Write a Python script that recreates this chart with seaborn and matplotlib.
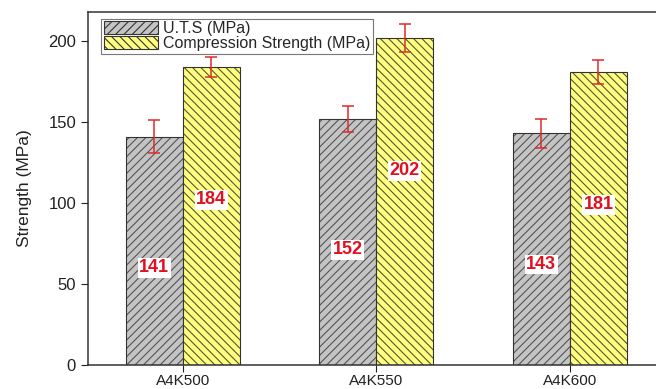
import matplotlib
matplotlib.use("Agg")
import matplotlib.pyplot as plt
import seaborn as sns
import pandas as pd
from matplotlib.patches import Patch

samples = ["A4K500", "A4K550", "A4K600"]
series = ["U.T.S (MPa)", "Compression Strength (MPa)"]
uts = [141, 152, 143]
comp = [184, 202, 181]
uts_err = [10, 8, 9]
comp_err = [6, 8.5, 7.5]
uts_label_y = [60, 71, 62]
comp_label_y = [102, 120, 99]

df = pd.DataFrame({
    "Sample": samples * 2,
    "Series": [series[0]] * 3 + [series[1]] * 3,
    "Strength": uts + comp,
})

sns.set_style("ticks")
plt.rcParams['font.family'] = ['Liberation Sans', 'DejaVu Sans']
plt.rcParams['hatch.linewidth'] = 0.8

fig = plt.figure(figsize=(6.56, 3.89), dpi=100)
ax = fig.add_axes([0.134, 0.062, 0.866, 0.907])

colors = {series[0]: "#c4c4c4", series[1]: "#ffff80"}
hatches = {series[0]: "////", series[1]: "\\\\\\\\"}
hcolors = {series[0]: "#555555", series[1]: "#555533"}

sns.barplot(data=df, x="Sample", y="Strength", hue="Series", palette=colors,
            width=0.59, errorbar=None, ax=ax, legend=False, saturation=1,
            edgecolor="#333333", linewidth=0.8)

errs = {series[0]: uts_err, series[1]: comp_err}
labels_y = {series[0]: uts_label_y, series[1]: comp_label_y}
vals = {series[0]: uts, series[1]: comp}
for cont, s in zip(ax.containers, series):
    for i, bar in enumerate(cont):
        bar.set_hatch(hatches[s])
        bar._hatch_color = matplotlib.colors.to_rgba(hcolors[s])
        cx = bar.get_x() + bar.get_width() / 2
        ax.errorbar(cx, vals[s][i], yerr=errs[s][i], color="#e02a2a",
                    capsize=4, elinewidth=1.1, capthick=1.1, zorder=5)
        ax.text(cx, labels_y[s][i], str(vals[s][i]), color="#e0101e",
                fontsize=13, fontweight="bold", ha="center", va="center",
                bbox=dict(facecolor="white", edgecolor="none", pad=1.0), zorder=6)

ax.set_xlim(-0.49, 2.445)
ax.set_ylim(0, 218)
ax.set_yticks([0, 50, 100, 150, 200])
ax.set_xlabel("")
ax.set_ylabel("Strength (MPa)", fontsize=12.5, color="#222222", labelpad=12)
ax.tick_params(axis="y", labelsize=12, colors="#222222", direction="out", length=5)
ax.tick_params(axis="x", labelsize=11, colors="#222222", direction="out", length=5, pad=1.5)
for sp in ["left", "bottom", "top"]:
    ax.spines[sp].set_color("#333333")
    ax.spines[sp].set_linewidth(1.1)
ax.spines["right"].set_visible(False)
ax.spines["top"].set_visible(True)

handles = []
for s in series:
    p = Patch(facecolor=colors[s], edgecolor="#333333", hatch=hatches[s], linewidth=0.8, label=s)
    handles.append(p)
leg = ax.legend(handles=handles, loc="upper left", bbox_to_anchor=(0.018, 0.99),
                fontsize=11.5, frameon=True, fancybox=False, edgecolor="#555555",
                handlelength=3.4, handleheight=0.85, handletextpad=0.3,
                borderpad=0.15, labelspacing=0.0, borderaxespad=0.2)
leg.get_frame().set_linewidth(0.8)

fig.savefig("out.png", dpi=100)
